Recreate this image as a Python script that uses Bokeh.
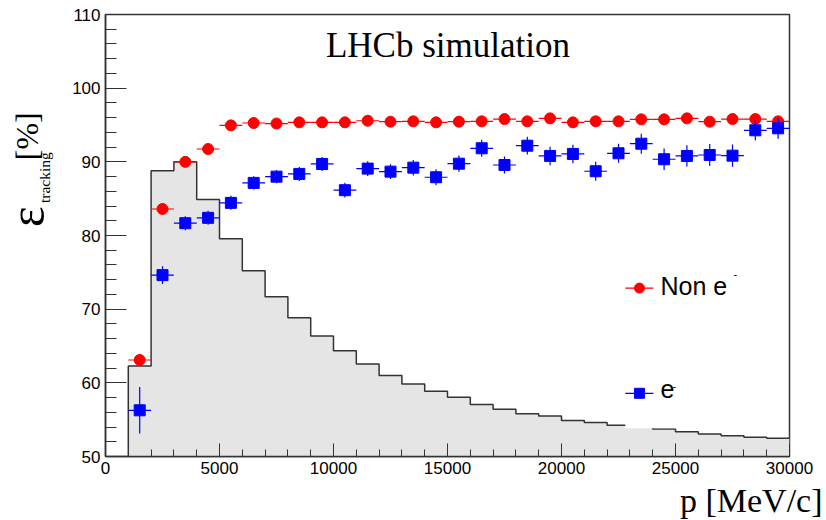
import numpy as np
from bokeh.plotting import figure
from bokeh.models import Range1d, SingleIntervalTicker, Label
from bokeh.layouts import row, column
from bokeh.core.properties import value
from bokeh.embed import file_html
from bokeh.resources import INLINE

# ---------------- data ----------------
p_centers = [1500, 2500, 3500, 4500, 5500, 6500, 7500, 8500, 9500, 10500,
             11500, 12500, 13500, 14500, 15500, 16500, 17500, 18500, 19500, 20500,
             21500, 22500, 23500, 24500, 25500, 26500, 27500, 28500, 29500]
bin_width = 1000

# momentum spectrum (arbitrary scale, drawn in the efficiency frame)
hist_vals = [62.3, 88.8, 90.0, 84.9, 79.55, 75.2, 71.7, 68.84, 66.36, 64.37,
             62.56, 60.98, 59.85, 58.85, 58.04, 57.05, 56.41, 55.79, 55.51, 54.88,
             54.61, 54.24, 54.0, 53.75, 53.35, 53.07, 52.8, 52.6, 52.48]

non_e_eff = [63.1, 83.6, 90.0, 91.74, 94.95, 95.27, 95.2, 95.36, 95.36, 95.36,
             95.58, 95.45, 95.5, 95.36, 95.45, 95.5, 95.81, 95.5, 95.9, 95.36,
             95.5, 95.5, 95.77, 95.77, 95.9, 95.45, 95.81, 95.81, 95.5]
non_e_err = [0.8, 0.5, 0.35, 0.3, 0.3, 0.3, 0.3, 0.3, 0.3, 0.3,
             0.3, 0.3, 0.3, 0.3, 0.3, 0.3, 0.3, 0.3, 0.3, 0.3,
             0.3, 0.3, 0.3, 0.3, 0.3, 0.3, 0.3, 0.3, 0.3]

e_eff = [56.27, 74.62, 81.67, 82.4, 84.43, 87.14, 87.99, 88.36, 89.71, 86.15,
         89.08, 88.67, 89.21, 87.91, 89.75, 91.84, 89.57, 92.19, 90.8, 91.07,
         88.72, 91.16, 92.46, 90.35, 90.8, 90.93, 90.84, 94.28, 94.55]
e_err = [3.15, 1.2, 0.95, 0.95, 0.95, 0.9, 0.9, 0.95, 0.95, 1.0,
         1.0, 1.0, 1.05, 1.1, 1.1, 1.15, 1.15, 1.2, 1.25, 1.25,
         1.3, 1.3, 1.35, 1.45, 1.45, 1.5, 1.5, 1.4, 1.4]

series_labels = ["Non e", "e"]
x_range = (0, 30000)
y_range = (50, 110)

SERIF = "Liberation Serif"
SANS = "Liberation Sans"

# ---------------- main figure ----------------
MAIN_W, MAIN_H = 761, 481
p = figure(width=MAIN_W, height=MAIN_H, x_range=Range1d(*x_range), y_range=Range1d(*y_range),
           output_backend="svg", toolbar_location=None,
           min_border_left=40, min_border_right=37, min_border_top=14, min_border_bottom=25)
p.grid.visible = False
p.background_fill_color = "white"
p.border_fill_color = "white"
p.outline_line_color = "#333333"
p.outline_line_width = 1.5

FRAME = "#333333"
for ax in (p.xaxis, p.yaxis):
    ax.axis_line_color = FRAME
    ax.axis_line_width = 1.5
    ax.major_tick_line_color = FRAME
    ax.minor_tick_line_color = FRAME
    ax.major_tick_out = 0
    ax.minor_tick_out = 0
    ax.major_label_text_font = SANS
    ax.major_label_text_font_size = "17px"
    ax.major_label_text_color = "black"
    ax.axis_label = None

p.xaxis.ticker = SingleIntervalTicker(interval=5000, num_minor_ticks=5)
p.yaxis.ticker = SingleIntervalTicker(interval=10, num_minor_ticks=5)
p.xaxis.major_tick_in = 13
p.xaxis.minor_tick_in = 7
p.yaxis.major_tick_in = 21
p.yaxis.minor_tick_in = 11
p.xaxis.major_label_standoff = 5
p.yaxis.major_label_standoff = 5

# ---------------- histogram ----------------
lefts = [c - bin_width / 2 for c in p_centers]
rights = [c + bin_width / 2 for c in p_centers]
hx = [lefts[0]]
hy = [y_range[0]]
for l, r, v in zip(lefts, rights, hist_vals):
    hx += [l, r]
    hy += [v, v]
p.patch(hx + [rights[-1]], hy + [y_range[0]], fill_color="#e5e5e5", line_color=None)
p.line(hx, hy, line_color="#333333", line_width=1.5)

# legend box (white, covers the histogram like ROOT's TLegend)
p.quad(left=[22800], right=[28500], bottom=[53.82], top=[76.5],
       fill_color="white", line_color=None)

# ---------------- efficiency points ----------------
RED = "#ff0000"
BLUE = "#0000ff"

def draw_series(vals, errs, color, marker):
    p.segment(x0=lefts, x1=rights, y0=vals, y1=vals, line_color=color, line_width=1.2)
    lo = [v - e for v, e in zip(vals, errs)]
    hi = [v + e for v, e in zip(vals, errs)]
    p.segment(x0=p_centers, x1=p_centers, y0=lo, y1=hi, line_color=color, line_width=1.2)
    p.scatter(p_centers, vals, marker=marker, size=11, fill_color=color, line_color=color)

draw_series(non_e_eff, non_e_err, RED, "circle")
draw_series(e_eff, e_err, BLUE, "square")

# ---------------- legend ----------------
leg_rows = [(72.86, 73.1, RED, "circle", 27626, 74.8),
            (58.58, 59.1, BLUE, "square", 24954, 59.62)]
for (ym, yt, col, mk, sup_x, sup_y), lab in zip(leg_rows, series_labels):
    p.segment(x0=[22800], x1=[24030], y0=[ym], y1=[ym], line_color=col, line_width=1.2)
    p.scatter([23420], [ym], marker=mk, size=10, fill_color=col, line_color=col)
    p.add_layout(Label(x=24341, y=yt, text=lab, text_font=SANS,
                       text_font_size="25px", text_baseline="middle", text_color="black"))
    p.add_layout(Label(x=sup_x, y=sup_y, text="-", text_font=SANS,
                       text_font_size="11px", text_align="center", text_baseline="middle",
                       text_color="black"))

p.add_layout(Label(x=9667, y=105.74, text="LHCb simulation", text_font=SERIF,
                   text_font_size="35px", text_baseline="middle", text_color="black"))

# ---------------- y-axis title panel (epsilon_tracking [%]) ----------------
YW = 65
yfig = figure(width=YW, height=MAIN_H, x_range=Range1d(0, YW), y_range=Range1d(0, MAIN_H),
              output_backend="svg", toolbar_location=None,
              x_axis_location=None, y_axis_location=None, min_border=0)
yfig.grid.visible = False
yfig.outline_line_color = None
yfig.text(x=[26.5], y=[MAIN_H - 220], text=["\u03b5"], angle=np.pi / 2,
          text_font=value(SERIF), text_font_size="50px", text_align="center",
          text_baseline="middle", text_color="black")
yfig.text(x=[43.8], y=[MAIN_H - 177.5], text=["tracking"], angle=np.pi / 2,
          text_font=value(SERIF), text_font_size="15.5px", text_align="center",
          text_baseline="middle", text_color="black")
yfig.text(x=[26.2], y=[MAIN_H - 132.5], text=["[%]"], angle=np.pi / 2,
          text_font=value(SERIF), text_font_size="32px", text_align="center",
          text_baseline="middle", text_color="black")

# ---------------- x-axis title panel ----------------
XW, XH = YW + MAIN_W, 520 - MAIN_H
xfig = figure(width=XW, height=XH, x_range=Range1d(0, XW), y_range=Range1d(0, XH),
              output_backend="svg", toolbar_location=None,
              x_axis_location=None, y_axis_location=None, min_border=0)
xfig.grid.visible = False
xfig.outline_line_color = None
xfig.text(x=[822], y=[XH - (500 - MAIN_H)], text=["p [MeV/c]"], text_font=value(SERIF),
          text_font_size="34px", text_align="right", text_baseline="middle",
          text_color="black")

layout = column(row(yfig, p), xfig)
open("out.html", "w").write(file_html(layout, INLINE))
